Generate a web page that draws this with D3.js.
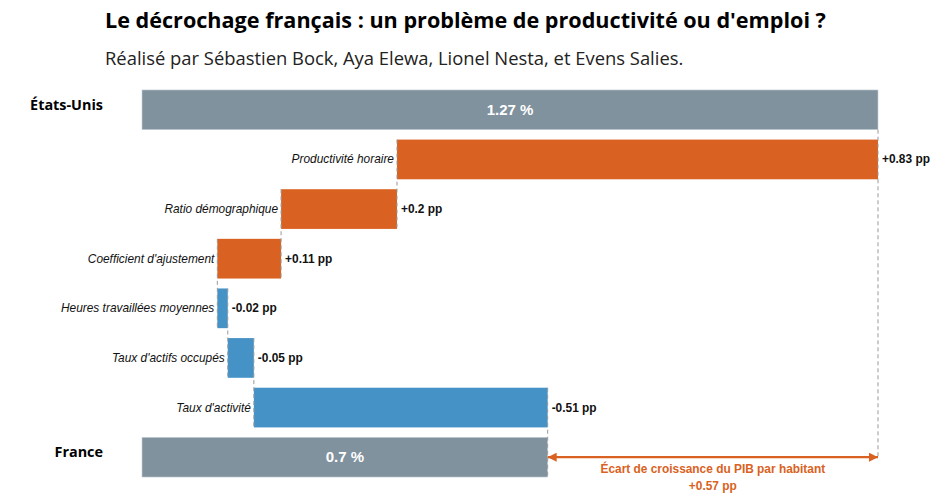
<!DOCTYPE html>
<html>
<head>
<meta charset="utf-8">
<script src="https://cdn.jsdelivr.net/npm/d3@7"></script>
<style>
  body { margin: 0; background: #fff; }
  svg { display: block; }
</style>
</head>
<body>
<div id="chart"></div>
<script>
// data
var usTotal = 1.27
var franceTotal = 0.70
var steps = ['Productivité horaire', 'Ratio démographique', "Coefficient d'ajustement",
  'Heures travaillées moyennes', "Taux d'actifs occupés", "Taux d'activité"]
var stepValues = [0.83, 0.20, 0.11, -0.018, -0.045, -0.507]
var stepLabels = ['+0.83 pp', '+0.2 pp', '+0.11 pp', '-0.02 pp', '-0.05 pp', '-0.51 pp']
var gapLabel = '+0.57 pp'

var width = 952, height = 503
var svg = d3.select('#chart').append('svg').attr('width', width).attr('height', height)

var x = d3.scaleLinear().domain([0, usTotal]).range([142, 878])
var rows = ['États-Unis'].concat(steps).concat(['France'])
var y = d3.scaleBand().domain(rows).range([85, 482]).paddingInner(0.2).paddingOuter(0.1)

// build waterfall: start from US, remove each contribution
var bars = []
var level = usTotal
steps.forEach(function(s, i) {
  var from = level
  level = level - stepValues[i]
  bars.push({name: s, a: Math.min(from, level), b: Math.max(from, level), from: from, to: level,
    value: stepValues[i], label: stepLabels[i]})
})

var grey = '#80929e', orange = '#d96222', blue = '#4593c6'
var lblSize = '11.9px'

svg.append('text').attr('x', 105).attr('y', 28)
  .style('font-family', 'Open Sans').style('font-weight', 'bold').style('font-size', '21.6px')
  .text("Le décrochage français : un problème de productivité ou d'emploi ?")
svg.append('text').attr('x', 105).attr('y', 65)
  .style('font-family', 'Open Sans').style('font-size', '18.4px').attr('fill', '#222')
  .text('Réalisé par Sébastien Bock, Aya Elewa, Lionel Nesta, et Evens Salies.')

// totals
var totals = [{name: 'États-Unis', v: usTotal, label: '1.27 %'}, {name: 'France', v: franceTotal, label: '0.7 %'}]
svg.selectAll('rect.total').data(totals).enter().append('rect')
  .attr('class', 'total')
  .attr('x', x(0)).attr('width', d => x(d.v) - x(0))
  .attr('y', d => y(d.name)).attr('height', y.bandwidth())
  .attr('fill', grey).attr('stroke', '#c5cfd6').attr('stroke-width', 0.6)
svg.selectAll('text.totval').data(totals).enter().append('text')
  .attr('x', d => (x(0) + x(d.v)) / 2).attr('y', d => y(d.name) + y.bandwidth() / 2 + 5)
  .attr('text-anchor', 'middle').attr('fill', '#fff')
  .style('font-family', 'Liberation Sans').style('font-weight', 'bold').style('font-size', '15px')
  .text(d => d.label)
svg.selectAll('text.country').data(totals).enter().append('text')
  .attr('x', 103).attr('y', d => y(d.name) + y.bandwidth() / 2 + 0)
  .attr('text-anchor', 'end')
  .style('font-family', 'Open Sans').style('font-weight', 'bold').style('font-size', '14.4px')
  .text(d => d.name)

// step bars
svg.selectAll('rect.step').data(bars).enter().append('rect')
  .attr('x', d => x(d.a)).attr('width', d => x(d.b) - x(d.a))
  .attr('y', d => y(d.name)).attr('height', y.bandwidth())
  .attr('fill', d => d.value > 0 ? orange : blue)
svg.selectAll('text.cat').data(bars).enter().append('text')
  .attr('x', d => x(d.a) - 3).attr('y', d => y(d.name) + y.bandwidth() / 2 + 4)
  .attr('text-anchor', 'end').attr('fill', '#111')
  .style('font-family', 'Liberation Sans').style('font-style', 'italic').style('font-size', lblSize)
  .text(d => d.name)
svg.selectAll('text.val').data(bars).enter().append('text')
  .attr('x', d => x(d.b) + 4).attr('y', d => y(d.name) + y.bandwidth() / 2 + 4)
  .attr('fill', '#111')
  .style('font-family', 'Liberation Sans').style('font-weight', 'bold').style('font-size', lblSize)
  .text(d => d.label)

// dashed connectors
var conn = []
conn.push({x: usTotal, y1: y('États-Unis') + y.bandwidth(), y2: y(steps[0]) + y.bandwidth()})
bars.forEach(function(d, i) {
  var next = i < bars.length - 1 ? bars[i + 1].name : 'France'
  conn.push({x: d.to, y1: y(d.name), y2: y(next) + y.bandwidth()})
})
svg.selectAll('line.conn').data(conn).enter().append('line')
  .attr('x1', d => x(d.x)).attr('x2', d => x(d.x))
  .attr('y1', d => d.y1).attr('y2', d => d.y2)
  .attr('stroke', '#999').attr('stroke-width', 1).attr('stroke-dasharray', '4,3')
// long guide from US down to arrow
var arrowY = y('France') + y.bandwidth() / 2
svg.append('line')
  .attr('x1', x(usTotal)).attr('x2', x(usTotal))
  .attr('y1', y(steps[0]) + y.bandwidth()).attr('y2', arrowY)
  .attr('stroke', '#999').attr('stroke-width', 1).attr('stroke-dasharray', '4,3')

// gap arrow
var defs = svg.append('defs')
defs.append('marker').attr('id', 'arr').attr('viewBox', '0 0 10 10')
  .attr('refX', 10).attr('refY', 5).attr('markerWidth', 10).attr('markerHeight', 9)
  .attr('markerUnits', 'userSpaceOnUse')
  .attr('orient', 'auto-start-reverse')
  .append('path').attr('d', 'M0,0L10,5L0,10z').attr('fill', orange)
svg.append('line')
  .attr('x1', x(franceTotal)).attr('x2', x(usTotal))
  .attr('y1', arrowY).attr('y2', arrowY)
  .attr('stroke', orange).attr('stroke-width', 2.2)
  .attr('marker-start', 'url(#arr)').attr('marker-end', 'url(#arr)')
var mid = (x(franceTotal) + x(usTotal)) / 2
svg.append('text').attr('x', mid).attr('y', arrowY + 16).attr('text-anchor', 'middle')
  .attr('fill', orange).style('font-family', 'Liberation Sans').style('font-weight', 'bold').style('font-size', lblSize)
  .text('Écart de croissance du PIB par habitant')
svg.append('text').attr('x', mid).attr('y', arrowY + 33).attr('text-anchor', 'middle')
  .attr('fill', orange).style('font-family', 'Liberation Sans').style('font-weight', 'bold').style('font-size', lblSize)
  .text(gapLabel)
</script>
</body>
</html>
